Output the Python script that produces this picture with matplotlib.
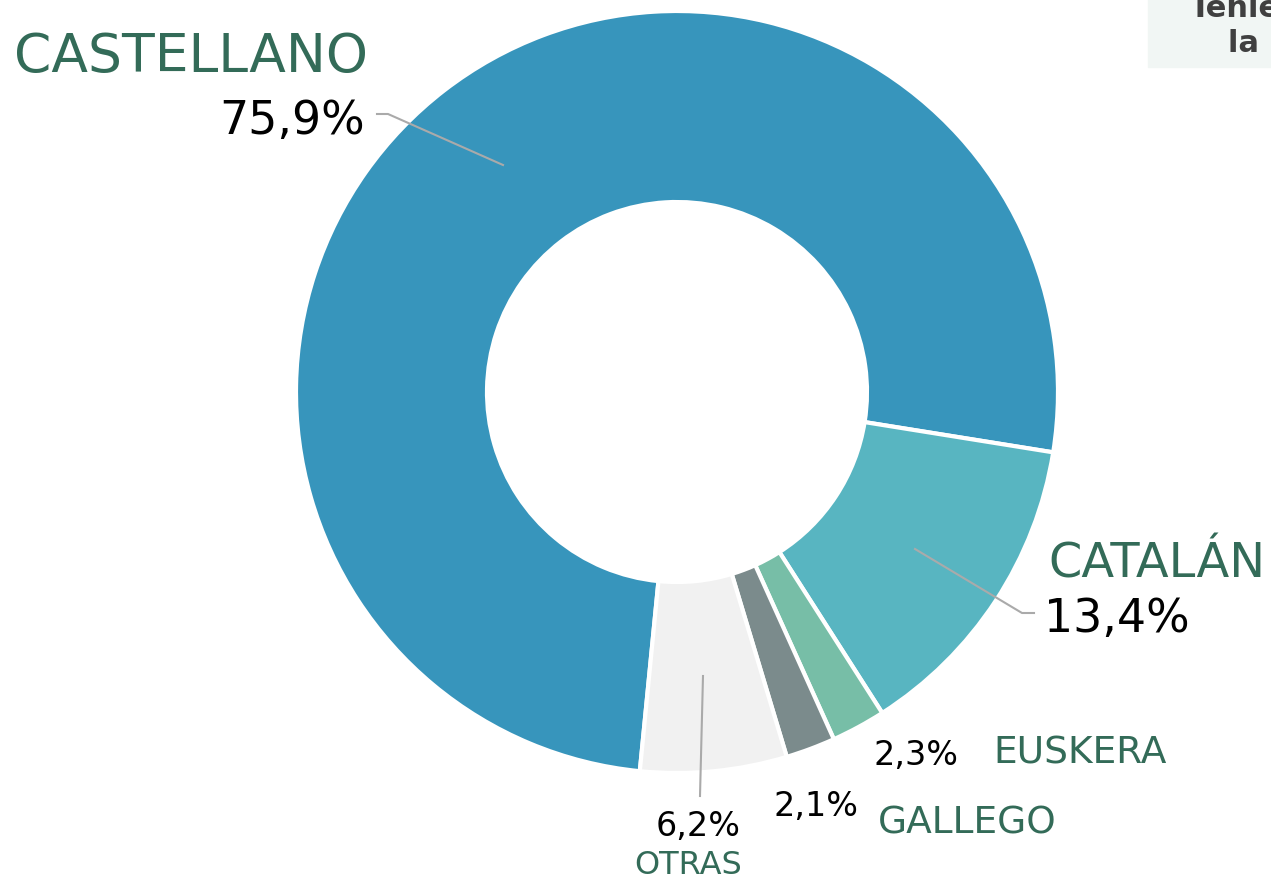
import matplotlib.pyplot as plt
from matplotlib.patches import Rectangle

idiomas = ['CASTELLANO', 'CATALÁN', 'EUSKERA', 'GALLEGO', 'OTRAS']
porcentajes = [75.9, 13.4, 2.3, 2.1, 6.2]
colores = ['#3795bc', '#58b5c1', '#77bea7', '#7b8b8c', '#f1f1f1']

W, H = 1271, 878
verde = '#336b58'
gris_linea = '#aaaaaa'

fig = plt.figure(figsize=(W / 100, H / 100), dpi=100)
ax = fig.add_axes([0, 0, 1, 1])
ax.set_xlim(0, W)
ax.set_ylim(0, H)
ax.axis('off')

def py(y):
    # pixel row (from top) -> data y
    return H - y

ax.pie(porcentajes, colors=colores, center=(677, py(393)), radius=381,
       startangle=264.4, counterclock=False,
       wedgeprops=dict(width=191, edgecolor='white', linewidth=3))
ax.set_xlim(0, W)
ax.set_ylim(0, H)
ax.set_aspect('auto')

def pct(v):
    return ('%.1f%%' % v).replace('.', ',')

# etiquetas y guias
ax.text(14, py(72), idiomas[0], fontsize=38.5, color=verde, va='baseline')
ax.text(365, py(134), pct(porcentajes[0]), fontsize=33, color='black',
        va='baseline', ha='right')
ax.plot([377, 388, 503], [py(115), py(115), py(166)], color=gris_linea, lw=1.5)

ax.text(1048, py(578), idiomas[1], fontsize=34.5, color=verde, va='baseline')
ax.text(1044, py(632), pct(porcentajes[1]), fontsize=33, color='black',
        va='baseline')
ax.plot([915, 1022, 1034], [py(550), py(614), py(614)], color=gris_linea, lw=1.5)

ax.text(873, py(765), pct(porcentajes[2]), fontsize=24, color='black', va='baseline')
ax.text(993, py(764), idiomas[2], fontsize=27, color=verde, va='baseline')

ax.text(773, py(816), pct(porcentajes[3]), fontsize=24, color='black', va='baseline')
ax.text(878, py(834), idiomas[3], fontsize=27, color=verde, va='baseline')

ax.text(741, py(836), pct(porcentajes[4]), fontsize=24, color='black',
        va='baseline', ha='right')
ax.text(634, py(874), idiomas[4], fontsize=23, color=verde, va='baseline')
ax.plot([703, 700], [py(677), py(797)], color=gris_linea, lw=1.5)

# recuadro del titulo lateral
ax.add_patch(Rectangle((1148, py(68)), W - 1148, 68, color='#f1f6f4', zorder=0))
ax.text(1190, py(17), 'Tenie', fontsize=22, fontweight='bold', color='#404040',
        va='baseline')
ax.text(1228, py(52), 'la p', fontsize=22, fontweight='bold', color='#404040',
        va='baseline')

fig.savefig('out.png', dpi=100)
